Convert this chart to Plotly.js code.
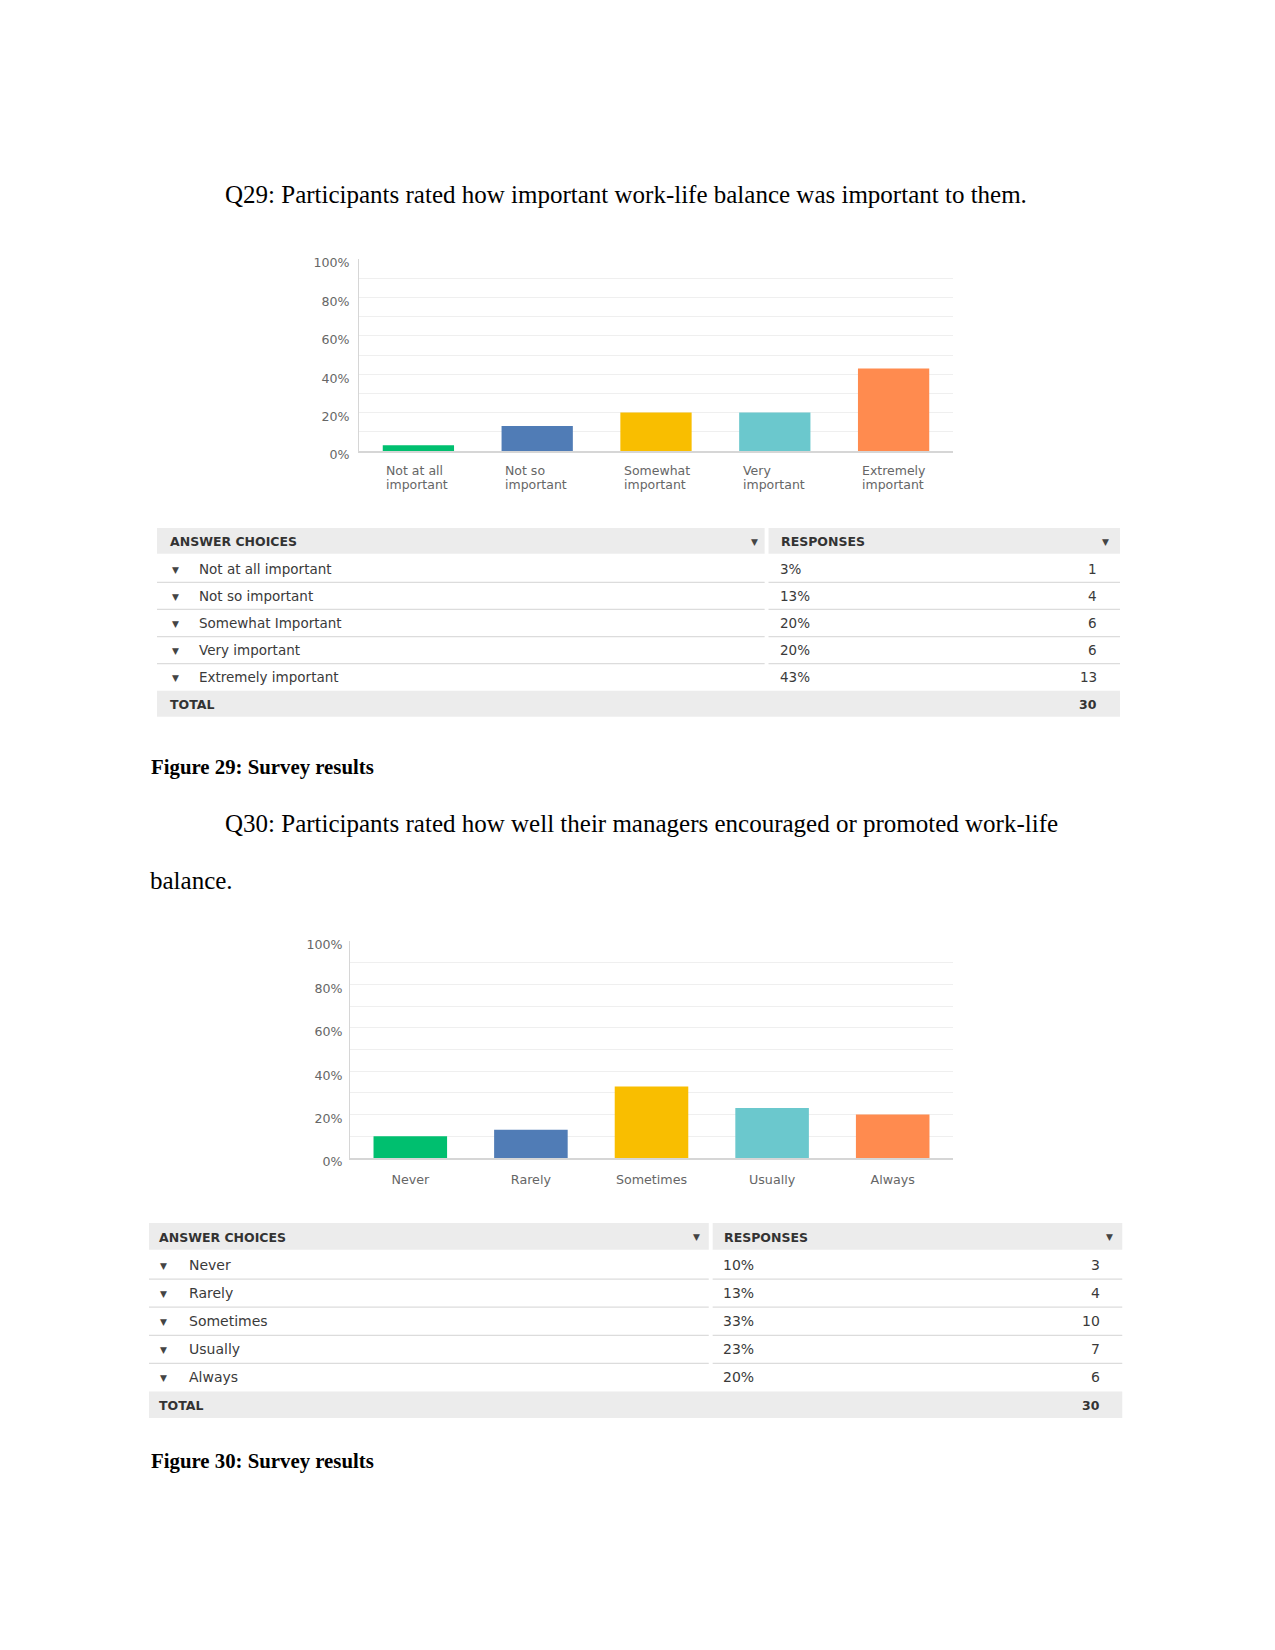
<!DOCTYPE html>
<html>
<head>
<meta charset="utf-8">
<script src="https://cdn.plot.ly/plotly-3.0.1.min.js"></script>
<style>html,body{margin:0;padding:0;background:#fff;}#chart{width:1275px;height:1650px;}</style>
</head>
<body>
<div id="chart"></div>
<script>
// ---------- DATA ----------
const q29Categories = ["Not at all important", "Not so important", "Somewhat important", "Very important", "Extremely important"];
const q29TickLabels = ["Not at all<br>important", "Not so<br>important", "Somewhat<br>important", "Very<br>important", "Extremely<br>important"];
const q29TableLabels = ["Not at all important", "Not so important", "Somewhat Important", "Very important", "Extremely important"];
const q29Percent = [3, 13, 20, 20, 43];
const q29Counts = [1, 4, 6, 6, 13];
const q29Total = 30;

const q30Categories = ["Never", "Rarely", "Sometimes", "Usually", "Always"];
const q30Percent = [10, 13, 33, 23, 20];
const q30Counts = [3, 4, 10, 7, 6];
const q30Total = 30;

const barColors = ["#00bf6f", "#507cb6", "#f9be00", "#6bc8cd", "#ff8b4f"];
const yTickVals = [0, 20, 40, 60, 80, 100];

const q29Text = "Q29: Participants rated how important work-life balance was important to them.";
const q29Caption = "Figure 29: Survey results";
const q30TextLine1 = "Q30: Participants rated how well their managers encouraged or promoted work-life";
const q30TextLine2 = "balance.";
const q30Caption = "Figure 30: Survey results";

// ---------- HELPERS ----------
const W = 1275, H = 1650;
const px = x => x / W;
const py = y => 1 - y / H;
const SANS = "DejaVu Sans, sans-serif";
const SERIF = "Liberation Serif, Times New Roman, serif";

function yAxis(domain, fontSize, anchor, tlen) {
  return {
    domain: domain, anchor: anchor, range: [0, 100], tickmode: "array",
    tickvals: yTickVals, ticktext: yTickVals.map(v => v + "%"),
    showgrid: true, gridcolor: "#efefef", gridwidth: 1,
    minor: {tickmode: "linear", tick0: 0, dtick: 10, showgrid: true, gridcolor: "#efefef", gridwidth: 1},
    showline: true, linecolor: "#d6d6d6", linewidth: 1, zeroline: false,
    ticks: "outside", ticklen: tlen, tickcolor: "rgba(0,0,0,0)", ticklabelshift: 4,
    tickfont: {family: SANS, size: fontSize, color: "#666666"}, fixedrange: true
  };
}

function tableAxes(cats, domainX, domainY, xname, yname) {
  const x = {domain: domainX, anchor: yname, range: [0, 1], visible: false, fixedrange: true};
  const y = {domain: domainY, anchor: xname, type: "category", categoryarray: cats, categoryorder: "array",
             range: [cats.length - 0.5, -0.5], visible: false, fixedrange: true};
  return [x, y];
}

const data = [];
// Chart 1 bars
data.push({type: "bar", x: q29Categories, y: q29Percent, xaxis: "x", yaxis: "y",
  marker: {color: barColors}, width: 0.6, hoverinfo: "none"});
// Chart 2 bars
data.push({type: "bar", x: q30Categories, y: q30Percent, xaxis: "x2", yaxis: "y2",
  marker: {color: barColors}, width: 0.61, hoverinfo: "none"});

const t1Cats = ["ANSWER CHOICES"].concat(q29TableLabels, ["TOTAL"]);
const t2Cats = ["ANSWER CHOICES"].concat(q30Categories, ["TOTAL"]);
// invisible anchor traces for the table axes
data.push({type: "scatter", mode: "markers", x: t1Cats.map(() => 0.5), y: t1Cats, xaxis: "x3", yaxis: "y3",
  marker: {opacity: 0}, hoverinfo: "none", showlegend: false});
data.push({type: "scatter", mode: "markers", x: t2Cats.map(() => 0.5), y: t2Cats, xaxis: "x4", yaxis: "y4",
  marker: {opacity: 0}, hoverinfo: "none", showlegend: false});

const [x3, y3] = tableAxes(t1Cats, [px(157), px(1120)], [py(718), py(528)], "x3", "y3");
const [x4, y4] = tableAxes(t2Cats, [px(149), px(1122.5)], [py(1419.5), py(1223)], "x4", "y4");

const layout = {
  width: W, height: H, margin: {l: 0, r: 0, t: 0, b: 0},
  paper_bgcolor: "#ffffff", plot_bgcolor: "rgba(0,0,0,0)", showlegend: false,
  xaxis: {domain: [px(359), px(953)], anchor: "y", type: "category", showline: true, linecolor: "#d6d6d6",
          linewidth: 1.5, showticklabels: false, fixedrange: true},
  yaxis: yAxis([py(451), py(259)], 12.6, "x", 6),
  xaxis2: {domain: [px(350), px(953)], anchor: "y2", type: "category", showline: true, linecolor: "#d6d6d6",
           linewidth: 1.5, ticks: "outside", ticklen: 9, tickcolor: "rgba(0,0,0,0)",
           tickfont: {family: SANS, size: 12.7, color: "#666666"}, fixedrange: true},
  yaxis2: yAxis([py(1158), py(941)], 12.6, "x2", 4),
  xaxis3: x3, yaxis3: y3, xaxis4: x4, yaxis4: y4,
  shapes: [], annotations: []
};

// Chart 1 x labels (left aligned, two lines each)
q29Categories.forEach((c, i) => {
  q29TickLabels[i].split("<br>").forEach((line, j) => {
    layout.annotations.push({xref: "x", yref: "y", x: c, y: 0, xanchor: "left", yanchor: "middle", align: "left",
      xshift: -34, yshift: -19 - 14 * j, showarrow: false, text: line,
      font: {family: SANS, size: 12.5, color: "#666666"}});
  });
});

// Table builder
function buildTable(xr, yr, labels, pct, counts, total, colBreak, cfg) {
  const lc = "#dcdcdc";
  const hdr = "#ececec";
  const n = labels.length;
  layout.shapes.push({type: "rect", xref: xr, yref: yr, x0: 0, x1: colBreak - 0.002, y0: -0.5, y1: 0.45, fillcolor: hdr, line: {width: 0}, layer: "below"});
  layout.shapes.push({type: "rect", xref: xr, yref: yr, x0: colBreak + 0.002, x1: 1, y0: -0.5, y1: 0.45, fillcolor: hdr, line: {width: 0}, layer: "below"});
  layout.shapes.push({type: "rect", xref: xr, yref: yr, x0: 0, x1: 1, y0: n + 0.5, y1: n + 1.45, fillcolor: hdr, line: {width: 0}, layer: "below"});
  for (let k = 1; k < n; k++) {
    layout.shapes.push({type: "line", xref: xr, yref: yr, x0: 0, x1: colBreak - 0.002, y0: k + 0.5, y1: k + 0.5, line: {color: lc, width: 1.3}});
    layout.shapes.push({type: "line", xref: xr, yref: yr, x0: colBreak + 0.002, x1: 1, y0: k + 0.5, y1: k + 0.5, line: {color: lc, width: 1.3}});
  }
  const hf = {family: SANS, size: 12.5, color: "#333333", weight: "bold"};
  const bf = {family: SANS, size: cfg.bsize, color: "#3a3a3a"};
  const tf = {family: "DejaVu Sans", size: 9, color: "#444"};
  const hc = "ANSWER CHOICES";
  layout.annotations.push({xref: xr, yref: yr, x: cfg.hx1, y: hc, xanchor: "left", yanchor: "middle", showarrow: false, text: "ANSWER CHOICES", font: hf});
  layout.annotations.push({xref: xr, yref: yr, x: cfg.hx2, y: hc, xanchor: "left", yanchor: "middle", showarrow: false, text: "RESPONSES", font: hf});
  layout.annotations.push({xref: xr, yref: yr, x: cfg.tri1, y: hc, xanchor: "center", yanchor: "middle", showarrow: false, text: "▼", font: tf});
  layout.annotations.push({xref: xr, yref: yr, x: cfg.tri2, y: hc, xanchor: "center", yanchor: "middle", showarrow: false, text: "▼", font: tf});
  labels.forEach((lab, i) => {
    layout.annotations.push({xref: xr, yref: yr, x: cfg.arrow, y: lab, xanchor: "center", yanchor: "middle", yshift: -1, showarrow: false, text: "▼", font: tf});
    layout.annotations.push({xref: xr, yref: yr, x: cfg.text, y: lab, xanchor: "left", yanchor: "middle", showarrow: false, text: lab, font: bf});
    layout.annotations.push({xref: xr, yref: yr, x: cfg.pct, y: lab, xanchor: "left", yanchor: "middle", showarrow: false, text: pct[i] + "%", font: bf});
    layout.annotations.push({xref: xr, yref: yr, x: cfg.cnt, y: lab, xanchor: "right", yanchor: "middle", showarrow: false, text: String(counts[i]), font: bf});
  });
  layout.annotations.push({xref: xr, yref: yr, x: cfg.hx1, y: "TOTAL", xanchor: "left", yanchor: "middle", showarrow: false, text: "TOTAL", font: hf});
  layout.annotations.push({xref: xr, yref: yr, x: cfg.cnt, y: "TOTAL", xanchor: "right", yanchor: "middle", showarrow: false, text: String(total), font: hf});
}

buildTable("x3", "y3", q29TableLabels, q29Percent, q29Counts, q29Total, 0.633,
  {bsize: 13.5, hx1: 0.0115, hx2: 0.646, tri1: 0.620, tri2: 0.985, arrow: 0.019, text: 0.042, pct: 0.645, cnt: 0.978});
buildTable("x4", "y4", q30Categories, q30Percent, q30Counts, q30Total, 0.577,
  {bsize: 14, hx1: 0.0083, hx2: 0.589, tri1: 0.562, tri2: 0.987, arrow: 0.0154, text: 0.039, pct: 0.588, cnt: 0.979});

// Document text
const bodyFont = {family: SERIF, size: 25, color: "#000000"};
const capFont = {family: SERIF, size: 20.8, color: "#000000", weight: "bold"};
function txt(t, x, y, f) {
  layout.annotations.push({xref: "paper", yref: "paper", x: px(x), y: py(y), xanchor: "left", yanchor: "middle", showarrow: false, text: t, font: f});
}
txt(q29Text, 223, 195, bodyFont);
txt(q29Caption, 149, 767, capFont);
txt(q30TextLine1, 223, 823, bodyFont);
txt(q30TextLine2, 148, 880, bodyFont);
txt(q30Caption, 149, 1461, capFont);

Plotly.newPlot("chart", data, layout, {staticPlot: true, displayModeBar: false});
</script>
</body>
</html>
